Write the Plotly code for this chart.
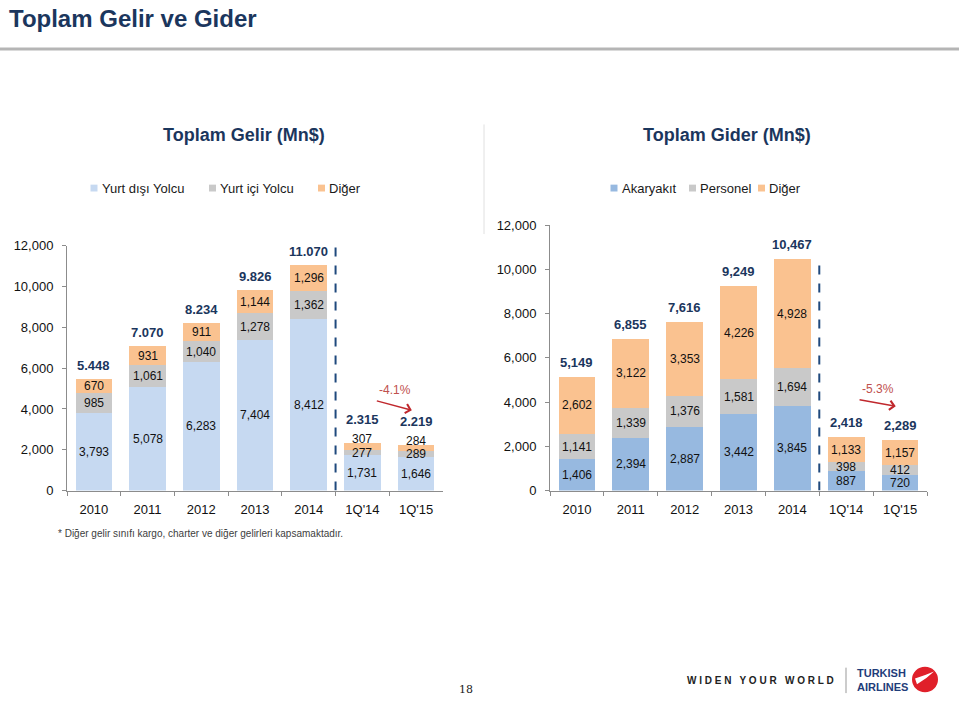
import plotly.graph_objects as go

# ---------------- data ----------------
categories = ["2010", "2011", "2012", "2013", "2014", "1Q'14", "1Q'15"]

gelir_yurt_disi = [3793, 5078, 6283, 7404, 8412, 1731, 1646]
gelir_yurt_ici = [985, 1061, 1040, 1278, 1362, 277, 289]
gelir_diger = [670, 931, 911, 1144, 1296, 307, 284]
gelir_total_labels = ["5.448", "7.070", "8.234", "9.826", "11.070", "2.315", "2.219"]

gider_akaryakit = [1406, 2394, 2887, 3442, 3845, 887, 720]
gider_personel = [1141, 1339, 1376, 1581, 1694, 398, 412]
gider_diger = [2602, 3122, 3353, 4226, 4928, 1133, 1157]
gider_total_labels = ["5,149", "6,855", "7,616", "9,249", "10,467", "2,418", "2,289"]

gelir_change = "-4.1%"
gider_change = "-5.3%"

y_ticks = [0, 2000, 4000, 6000, 8000, 10000, 12000]

# ---------------- styling ----------------
W, H = 959, 706
FONT = "Liberation Sans, Arial, sans-serif"
NAVY = "#1B365D"
C_LBLUE = "#C6D9F1"
C_BLUE = "#97B9E0"
C_GRAY = "#C9C9C9"
C_ORANGE = "#FAC290"
C_RED = "#C0504D"
AXIS_C = "#8C8C8C"


def px(x):
    return x / W


def py(y):
    return 1 - y / H


fig = go.Figure()

left_series = [("Yurt dışı Yolcu", gelir_yurt_disi, C_LBLUE),
               ("Yurt içi Yolcu", gelir_yurt_ici, C_GRAY),
               ("Diğer", gelir_diger, C_ORANGE)]
right_series = [("Akaryakıt", gider_akaryakit, C_BLUE),
                ("Personel", gider_personel, C_GRAY),
                ("Diğer", gider_diger, C_ORANGE)]

for name, vals, col in left_series:
    fig.add_trace(go.Bar(x=categories, y=vals, name=name, marker=dict(color=col, line=dict(width=0)),
                         xaxis="x", yaxis="y", showlegend=False, hoverinfo="x+y+name"))
for name, vals, col in right_series:
    fig.add_trace(go.Bar(x=categories, y=vals, name=name, marker=dict(color=col, line=dict(width=0)),
                         xaxis="x2", yaxis="y2", showlegend=False, hoverinfo="x+y+name"))

annotations = []


def seg_labels(series, xref, yref, nudges):
    base = [0] * len(categories)
    for si, (name, vals, col) in enumerate(series):
        for i, v in enumerate(vals):
            annotations.append(dict(
                x=i, y=base[i] + v / 2, xref=xref, yref=yref,
                text=f"{v:,}", showarrow=False,
                yshift=nudges.get((si, i), 0),
                font=dict(family=FONT, size=12, color="#111111")))
            base[i] += v
    return base


left_tot = seg_labels(left_series, "x", "y", {(2, 5): 7, (2, 6): 7, (1, 5): -1})
right_tot = seg_labels(right_series, "x2", "y2", {})

for i, t in enumerate(left_tot):
    annotations.append(dict(x=i, y=t, xref="x", yref="y", text=f"<b>{gelir_total_labels[i]}</b>",
                            showarrow=False, yanchor="bottom", yshift=4 if i < 5 else 14,
                            font=dict(family=FONT, size=13, color=NAVY)))
for i, t in enumerate(right_tot):
    annotations.append(dict(x=i, y=t, xref="x2", yref="y2", text=f"<b>{gider_total_labels[i]}</b>",
                            showarrow=False, yanchor="bottom", yshift=5,
                            font=dict(family=FONT, size=13, color=NAVY)))

# change arrows
annotations += [
    dict(x=5.92, y=3936, ax=5.24, ay=4416, xref="x", yref="y", axref="x", ayref="y",
         showarrow=True, arrowhead=4, arrowsize=1.3, arrowwidth=1.4, arrowcolor="#C0282D", text=""),
    dict(x=5.61, y=4944, xref="x", yref="y", text=gelir_change, showarrow=False,
         font=dict(family=FONT, size=12, color=C_RED)),
    dict(x=5.92, y=3808, ax=5.22, ay=4118, xref="x2", yref="y2", axref="x2", ayref="y2",
         showarrow=True, arrowhead=4, arrowsize=1.3, arrowwidth=1.4, arrowcolor="#C0282D", text=""),
    dict(x=5.59, y=4605, xref="x2", yref="y2", text=gider_change, showarrow=False,
         font=dict(family=FONT, size=12, color=C_RED)),
]

# titles
annotations += [
    dict(x=px(7), y=py(12), xref="paper", yref="paper", xanchor="left", yanchor="middle",
         text="<b>Toplam Gelir ve Gider</b>", showarrow=False, font=dict(family=FONT, size=24, color=NAVY)),
    dict(x=px(244), y=py(131), xref="paper", yref="paper", xanchor="center", yanchor="middle",
         text="<b>Toplam Gelir (Mn$)</b>", showarrow=False, font=dict(family=FONT, size=18, color=NAVY)),
    dict(x=px(727), y=py(131), xref="paper", yref="paper", xanchor="center", yanchor="middle",
         text="<b>Toplam Gider (Mn$)</b>", showarrow=False, font=dict(family=FONT, size=18, color=NAVY)),
    dict(x=px(56), y=py(538), xref="paper", yref="paper", xanchor="left", yanchor="middle",
         text="* Diğer gelir sınıfı kargo, charter ve diğer gelirleri kapsamaktadır.", showarrow=False,
         font=dict(family=FONT, size=10, color="#404040")),
    dict(x=px(466), y=py(697), xref="paper", yref="paper", xanchor="center", yanchor="middle",
         text="18", showarrow=False, font=dict(family="DejaVu Serif, serif", size=11, color="#222222")),
    dict(x=px(836), y=py(688), xref="paper", yref="paper", xanchor="right", yanchor="middle",
         text="<b>W I D E N   Y O U R   W O R L D</b>", showarrow=False,
         font=dict(family=FONT, size=10, color="#222222")),
    dict(x=px(855), y=py(688), xref="paper", yref="paper", xanchor="left", yanchor="middle",
         text="<b>TURKISH<br>AIRLINES</b>", showarrow=False, align="left",
         font=dict(family=FONT, size=11, color="#1F3D7A")),
]

shapes = []
# custom legends
legend_items = [
    (94, "Yurt dışı Yolcu", C_LBLUE), (212.5, "Yurt içi Yolcu", C_GRAY), (321.5, "Diğer", C_ORANGE),
    (614, "Akaryakıt", C_BLUE), (692.5, "Personel", C_GRAY), (761.5, "Diğer", C_ORANGE),
]
for cx, label, col in legend_items:
    shapes.append(dict(type="rect", xref="paper", yref="paper", x0=px(cx - 3.5), x1=px(cx + 3.5),
                       y0=py(188.5), y1=py(181.5), fillcolor=col, line=dict(width=0)))
    annotations.append(dict(x=px(cx + 5.5), y=py(185), xref="paper", yref="paper", xanchor="left",
                            yanchor="middle", text=label, showarrow=False,
                            font=dict(family=FONT, size=13, color="#1a1a1a")))

# header rule and separators
shapes += [
    dict(type="line", xref="paper", yref="paper", x0=0, x1=1, y0=py(43), y1=py(43),
         line=dict(color="#B5B5B5", width=3)),
    dict(type="line", xref="paper", yref="paper", x0=px(484), x1=px(484), y0=py(120), y1=py(232),
         line=dict(color="#E0E0E0", width=1)),
    dict(type="line", xref="x", yref="y", x0=4.5, x1=4.5, y0=0, y1=12000,
         line=dict(color="#1F497D", width=2, dash="dash")),
    dict(type="line", xref="x2", yref="y2", x0=4.5, x1=4.5, y0=0, y1=10500,
         line=dict(color="#1F497D", width=2, dash="dash")),
    # logo
    dict(type="line", xref="paper", yref="paper", x0=px(846), x1=px(846), y0=py(675), y1=py(701),
         line=dict(color="#999999", width=1)),
    dict(type="circle", xref="paper", yref="paper", x0=px(912), x1=px(938), y0=py(700), y1=py(674),
         fillcolor="#E0202A", line=dict(width=0)),
    dict(type="path", xref="paper", yref="paper",
         path=f"M {px(915)} {py(686)} Q {px(925)} {py(683)} {px(934)} {py(679)} "
              f"Q {px(927)} {py(686)} {px(917)} {py(692)} Z",
         fillcolor="white", line=dict(width=0)),
]

axis_common = dict(showgrid=False, zeroline=False, showline=True, linecolor=AXIS_C, linewidth=1,
                   ticks="outside", tickcolor=AXIS_C, ticklen=4,
                   tickfont=dict(family=FONT, size=13, color="#111111"))

fig.update_layout(
    width=W, height=H, margin=dict(l=0, r=0, t=0, b=0, pad=0),
    paper_bgcolor="white", plot_bgcolor="white",
    barmode="stack", bargap=0.32, showlegend=False,
    xaxis=dict(domain=[px(67), px(443)], anchor="y", type="category", tickson="boundaries",
               range=[-0.5, 6.5], ticklabelstandoff=7, **axis_common),
    yaxis=dict(domain=[py(494), py(244)], anchor="x", range=[0, 12000], tickvals=y_ticks,
               tickformat=",", ticklabelstandoff=6, **axis_common),
    xaxis2=dict(domain=[px(550), px(927)], anchor="y2", type="category", tickson="boundaries",
                range=[-0.5, 6.5], ticklabelstandoff=7, **axis_common),
    yaxis2=dict(domain=[py(494), py(223)], anchor="x2", range=[0, 12000], tickvals=y_ticks,
                tickformat=",", ticklabelstandoff=6, **axis_common),
    annotations=annotations, shapes=shapes,
)

fig.write_html("out.html")
